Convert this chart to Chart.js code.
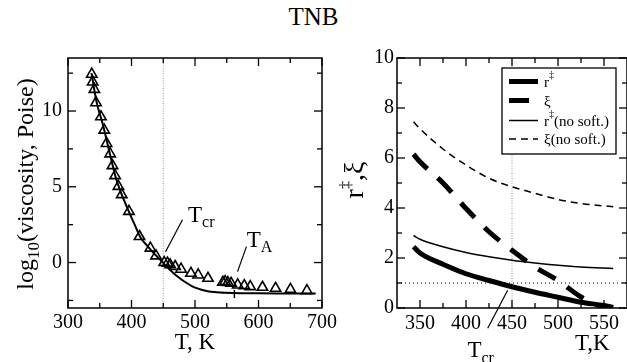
<!DOCTYPE html>
<html>
<head>
<meta charset="utf-8">
<script src="https://cdn.jsdelivr.net/npm/chart.js@4.4.0/dist/chart.umd.min.js"></script>
<style>
  body { margin: 0; background: #fff; width: 627px; height: 362px; overflow: hidden; position: relative; }
  #title { position: absolute; left: 0; top: 3px; width: 627px; text-align: center; font: 25px 'Liberation Serif', serif; color: #000; }
  #left { position: absolute; left: 0; top: 0; }
  #right { position: absolute; left: 320px; top: 0; }
</style>
</head>
<body>
<div id="title">TNB</div>
<canvas id="left" width="340" height="362"></canvas>
<canvas id="right" width="307" height="362"></canvas>
<script>
// left panel: measured viscosity (triangles) and fit
var measT = [337.4, 338.9, 341.5, 344.1, 351.9, 357.1, 360.7, 366.4, 370.1, 374.2, 379.4, 384.6, 396.0, 412.6, 429.7, 438.6,
  451.5, 456.7, 460.9, 468.7, 478.0, 493.6, 505.0, 520.5, 543.9, 547.5, 551.7, 556.9, 567.3, 577.6, 587.0, 606.2, 626.9, 650.3, 676.2];
var measVisc = [12.43, 11.92, 11.43, 10.55, 9.62, 8.74, 7.86, 7.17, 6.40, 5.74, 5.03, 4.48, 3.38, 1.72, 0.95, 0.44,
  0.0, -0.04, -0.15, -0.26, -0.44, -0.71, -0.82, -1.04, -1.30, -1.26, -1.32, -1.37, -1.48, -1.52, -1.59, -1.63, -1.70, -1.77, -1.85];
var fitT = [337, 345, 355, 365, 375, 385, 395, 405, 415, 425, 435, 445, 455, 465, 475, 485, 495, 505, 515, 525, 540, 560, 600, 650, 690];
var fitVisc = [12.5, 10.6, 9.1, 7.35, 5.65, 4.45, 3.45, 2.5, 1.6, 1.1, 0.62, 0.2, -0.25, -0.65, -1.0, -1.3, -1.55, -1.72, -1.85, -1.93, -1.98, -2.01, -2.03, -2.04, -2.05];
var leftXTicks = [300, 400, 500, 600, 700];
var leftYTicks = [0, 5, 10];

// right panel: r and xi, with and without softening
var rT = [343, 350, 375, 400, 425, 450, 475, 500, 525, 550, 560];
var rVal = [2.45, 2.2, 1.75, 1.37, 1.1, 0.85, 0.63, 0.43, 0.23, 0.1, 0.02];
var xiT = [343, 350, 375, 400, 425, 450, 475, 500, 525, 548];
var xiVal = [6.15, 5.85, 5.0, 3.98, 3.05, 2.31, 1.64, 1.1, 0.44, 0.02];
var rNoSoftT = [343, 350, 375, 400, 425, 450, 475, 500, 525, 560];
var rNoSoft = [2.9, 2.75, 2.45, 2.22, 2.05, 1.91, 1.8, 1.71, 1.64, 1.58];
var xiNoSoftT = [343, 350, 375, 400, 425, 450, 475, 500, 525, 560];
var xiNoSoft = [7.45, 7.17, 6.36, 5.72, 5.19, 4.85, 4.59, 4.34, 4.18, 4.05];
var rightXTicks = [350, 400, 450, 500, 550];
var rightYTicks = [0, 2, 4, 6, 8, 10];
var legendNames = ['r', '\u03be', 'r', '\u03be'];

var serif = "'Liberation Serif', 'Times New Roman', serif";
Chart.defaults.font.family = serif;
Chart.defaults.color = '#000';

function pts(xs, ys) {
  return xs.map(function (x, i) { return { x: x, y: ys[i] }; });
}

// text made of pieces: [text, size, dy]
function rich(ctx, parts, x, y, align) {
  var w = 0;
  parts.forEach(function (p) { ctx.font = p[1] + 'px ' + serif; w += ctx.measureText(p[0]).width; });
  var cx = align == 'center' ? x - w / 2 : x;
  ctx.textAlign = 'left';
  ctx.textBaseline = 'alphabetic';
  ctx.fillStyle = '#000';
  parts.forEach(function (p) {
    ctx.font = p[1] + 'px ' + serif;
    ctx.fillText(p[0], cx, y + (p[2] || 0));
    cx += ctx.measureText(p[0]).width;
  });
}

function line(ctx, x1, y1, x2, y2) {
  ctx.beginPath(); ctx.moveTo(x1, y1); ctx.lineTo(x2, y2); ctx.stroke();
}

// frame with inward ticks on all sides (xmgrace look)
function framePlugin(o) {
  return {
    id: 'frame',
    beforeDatasetsDraw: function (chart) {
      if (o.under) { chart.ctx.save(); o.under(chart, chart.ctx); chart.ctx.restore(); }
    },
    afterDatasetsDraw: function (chart) {
      var ctx = chart.ctx, a = chart.chartArea, sx = chart.scales.x, sy = chart.scales.y;
      ctx.save();
      ctx.strokeStyle = '#000';
      ctx.lineWidth = 1.5;
      ctx.strokeRect(a.left, a.top, a.right - a.left, a.bottom - a.top);
      ctx.lineWidth = 1.3;
      function ticks(vals, len, isX) {
        vals.forEach(function (v) {
          if (isX) {
            var p = sx.getPixelForValue(v);
            line(ctx, p, a.bottom, p, a.bottom - len);
            line(ctx, p, a.top, p, a.top + len);
          } else {
            var q = sy.getPixelForValue(v);
            line(ctx, a.left, q, a.left + len, q);
            line(ctx, a.right, q, a.right - len, q);
          }
        });
      }
      ticks(o.xMajor, 8, true); ticks(o.xMinor, 5, true);
      ticks(o.yMajor, 8, false); ticks(o.yMinor, 5, false);
      if (o.over) o.over(chart, ctx);
      ctx.restore();
    }
  };
}

function axisX(min, max, list, h, pad) {
  return {
    type: 'linear', min: min, max: max,
    grid: { display: false, drawTicks: false }, border: { display: false },
    ticks: { font: { size: 20 }, padding: pad, maxRotation: 0, color: '#000' },
    afterBuildTicks: function (s) { s.ticks = list.map(function (v) { return { value: v }; }); },
    afterFit: function (s) { s.height = h; }
  };
}
function axisY(min, max, list, w, pad) {
  return {
    type: 'linear', min: min, max: max,
    grid: { display: false, drawTicks: false }, border: { display: false },
    ticks: { font: { size: 20 }, padding: pad, color: '#000' },
    afterBuildTicks: function (s) { s.ticks = list.map(function (v) { return { value: v }; }); },
    afterFit: function (s) { s.width = w; }
  };
}

new Chart(document.getElementById('left'), {
  type: 'scatter',
  data: {
    datasets: [
      {
        data: pts(fitT, fitVisc), showLine: true, borderColor: '#000', borderWidth: 2,
        pointRadius: 0, cubicInterpolationMode: 'monotone'
      },
      {
        data: pts(measT, measVisc), showLine: false, pointStyle: 'triangle', pointRadius: 6,
        borderColor: '#000', borderWidth: 1.6, backgroundColor: 'rgba(0,0,0,0)'
      }
    ]
  },
  options: {
    responsive: false, animation: false,
    layout: { padding: { top: 58, right: 17, left: 0, bottom: 0 } },
    plugins: { legend: { display: false }, tooltip: { enabled: false } },
    scales: {
      x: axisX(300, 700, leftXTicks, 54, 3),
      y: axisY(-3, 13.5, leftYTicks, 68, 6)
    }
  },
  plugins: [framePlugin({
    xMajor: leftXTicks, xMinor: [350, 450, 550, 650],
    yMajor: leftYTicks, yMinor: [-2.5, 2.5, 7.5, 12.5],
    under: function (chart, ctx) {
      var a = chart.chartArea, p = chart.scales.x.getPixelForValue(450);
      ctx.strokeStyle = '#999'; ctx.lineWidth = 1; ctx.setLineDash([1, 1.5]);
      line(ctx, p, a.top, p, a.bottom);
    },
    over: function (chart, ctx) {
      var sx = chart.scales.x, sy = chart.scales.y, a = chart.chartArea;
      ctx.lineWidth = 1.2;
      line(ctx, sx.getPixelForValue(453.6), sy.getPixelForValue(0.71), sx.getPixelForValue(480.3), sy.getPixelForValue(2.83));
      line(ctx, sx.getPixelForValue(567), sy.getPixelForValue(-0.6), sx.getPixelForValue(581), sy.getPixelForValue(1.05));
      ctx.lineWidth = 1.5;
      line(ctx, sx.getPixelForValue(562), sy.getPixelForValue(-1.8), sx.getPixelForValue(562), sy.getPixelForValue(-2.35));
      rich(ctx, [['T', 23], ['cr', 16, 5]], sx.getPixelForValue(489), sy.getPixelForValue(2.7), 'left');
      rich(ctx, [['T', 23], ['A', 16, 5]], sx.getPixelForValue(581.5), sy.getPixelForValue(1.05), 'left');
      rich(ctx, [['T, K', 23]], (a.left + a.right) / 2, 349, 'center');
      ctx.save();
      ctx.translate(24, (a.top + a.bottom) / 2 + 1);
      ctx.rotate(-Math.PI / 2);
      rich(ctx, [['log', 24], ['10', 17, 6], ['(viscosity, Poise)', 24]], 0, 9, 'center');
      ctx.restore();
    }
  })]
});

var legendStyles = [
  { width: 5, dash: [] },
  { width: 5, dash: [20, 14] },
  { width: 1.5, dash: [] },
  { width: 1.5, dash: [7, 5] }
];

new Chart(document.getElementById('right'), {
  type: 'scatter',
  data: {
    datasets: [
      { data: pts(rT, rVal), borderWidth: 5, borderDash: legendStyles[0].dash },
      { data: pts(xiT, xiVal), borderWidth: 5, borderDash: legendStyles[1].dash },
      { data: pts(rNoSoftT, rNoSoft), borderWidth: 1.5, borderDash: legendStyles[2].dash },
      { data: pts(xiNoSoftT, xiNoSoft), borderWidth: 1.5, borderDash: legendStyles[3].dash }
    ].map(function (d) {
      d.showLine = true; d.pointRadius = 0; d.borderColor = '#000';
      d.cubicInterpolationMode = 'monotone';
      return d;
    })
  },
  options: {
    responsive: false, animation: false,
    layout: { padding: { top: 58, right: 0, left: 0, bottom: 0 } },
    plugins: { legend: { display: false }, tooltip: { enabled: false } },
    scales: {
      x: axisX(325, 575, rightXTicks, 54, 4),
      y: axisY(0, 10, rightYTicks, 77, 3)
    }
  },
  plugins: [framePlugin({
    xMajor: rightXTicks, xMinor: [375, 425, 475, 525],
    yMajor: rightYTicks, yMinor: [1, 3, 5, 7, 9],
    under: function (chart, ctx) {
      var a = chart.chartArea, sx = chart.scales.x, sy = chart.scales.y;
      var p = sx.getPixelForValue(450);
      ctx.strokeStyle = '#999'; ctx.lineWidth = 1; ctx.setLineDash([1, 1.5]);
      line(ctx, p, a.top, p, a.bottom);
      ctx.strokeStyle = '#000'; ctx.setLineDash([1, 3]);
      var q = sy.getPixelForValue(1);
      line(ctx, a.left, q, a.right, q);
    },
    over: function (chart, ctx) {
      var sx = chart.scales.x, sy = chart.scales.y, a = chart.chartArea;
      // legend box
      var bx = 182, by = 68, bw = 114, bh = 86;
      ctx.fillStyle = '#fff';
      ctx.fillRect(bx, by, bw, bh);
      ctx.strokeStyle = '#000'; ctx.lineWidth = 1.3;
      ctx.strokeRect(bx, by, bw, bh);
      var rows = [13.5, 32.5, 52.5, 71];
      legendNames.forEach(function (name, i) {
        var y = by + rows[i];
        ctx.save();
        ctx.lineWidth = legendStyles[i].width;
        ctx.setLineDash(legendStyles[i].dash);
        line(ctx, bx + 7, y, bx + (i == 1 ? 29 : 36), y);
        ctx.restore();
        var parts = [[name, 15]];
        if (i == 0 || i == 2) parts.push(['\u2021', 10, -9]);
        if (i >= 2) parts.push(['(no soft.)', 15]);
        rich(ctx, parts, bx + 42, y + 5, 'left');
      });
      // T_cr marker below axis
      ctx.lineWidth = 1.2;
      line(ctx, sx.getPixelForValue(423.6), sy.getPixelForValue(-0.81), sx.getPixelForValue(445.3), sy.getPixelForValue(0.71));
      rich(ctx, [['T', 23], ['cr', 16, 6]], sx.getPixelForValue(401.5), 357, 'left');
      rich(ctx, [['T,K', 23]], 255, 350, 'left');
      ctx.save();
      ctx.translate(33, (a.top + a.bottom) / 2 - 3);
      ctx.rotate(-Math.PI / 2);
      rich(ctx, [['r', 28], ['\u2021', 16, -12], [',\u03be', 28]], 0, 10, 'center');
      ctx.restore();
    }
  })]
});
</script>
</body>
</html>
